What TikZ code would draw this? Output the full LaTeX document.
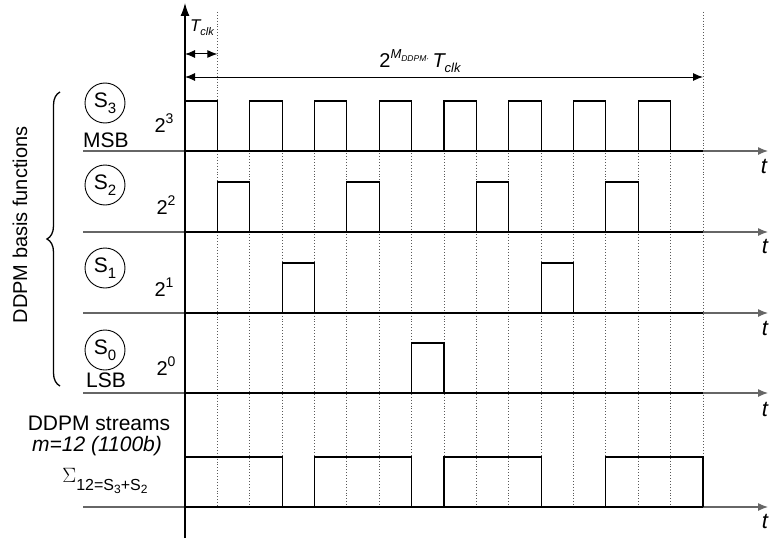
\documentclass[tikz,border=0pt]{standalone}
\usepackage{fontspec}
\setmainfont{Liberation Sans}
\usetikzlibrary{arrows.meta,decorations.pathreplacing}
\begin{document}
\begin{tikzpicture}[x=1pt,y=-1pt]
\useasboundingbox (0,0) rectangle (770,543);
\tikzset{
 axisline/.style={draw=black!60, line width=1.2pt, -{Latex[length=10pt,width=8pt]}},
 wave/.style={draw=black, line width=1.1pt},
 gridline/.style={draw=black!65, dotted, line width=0.9pt},
 bit/.style={circle, draw, line width=0.9pt, minimum size=40pt, inner sep=0pt, font=\fontsize{21}{21}\selectfont},
 lbl/.style={font=\fontsize{20}{20}\selectfont, inner sep=0pt},
 tlabel/.style={font=\fontsize{22}{22}\selectfont\itshape, inner sep=0pt},
 dim/.style={draw=black, line width=1pt, {Latex[length=10pt,width=8pt]}-{Latex[length=10pt,width=8pt]}},
}
\def\T{32.375}
% dotted grid
\foreach \k in {2,...,15}{
  \coordinate (gt\k) at ({185+\T*\k},101);
  \coordinate (gb\k) at ({185+\T*\k},507);
  \draw[gridline] (gt\k) -- (gb\k);
}
\foreach \k in {1,16}{
  \coordinate (gt\k) at ({185+\T*\k},12);
  \coordinate (gb\k) at ({185+\T*\k},507);
  \draw[gridline] (gt\k) -- (gb\k);
}
% horizontal axes
\foreach \n/\b in {a/151,b/232,c/313,d/393,e/507}{
  \coordinate (hl\n) at (83,\b);
  \coordinate (hr\n) at (768,\b);
  \draw[axisline] (hl\n) -- (hr\n);
}
% vertical axis
\coordinate (vb) at (185,538);
\coordinate (vt) at (185,3);
\draw[draw=black, line width=1.1pt, -{Latex[length=13pt,width=9pt]}] (vb) -- (vt);
% waveforms
\foreach \b/\list in {151/{0/1,2/3,4/5,6/7,8/9,10/11,12/13,14/15},232/{1/2,5/6,9/10,13/14},313/{3/4,11/12},393/{7/8},507/{0/3,4/7,8/11,13/16}}{
  \coordinate (ws) at (185,\b);
  \coordinate (we) at (703,\b);
  \draw[wave] (ws) -- (we);
  \foreach \p/\q in \list{
    \draw[wave] ({185+\T*\p},\b) -- ({185+\T*\p},\b-50) -- ({185+\T*\q},\b-50) -- ({185+\T*\q},\b);
  }
}
% t labels
\node[tlabel] (t1) at (764,166) {t};
\node[tlabel] (t2) at (765,246) {t};
\node[tlabel] (t3) at (765,328) {t};
\node[tlabel] (t4) at (765,409) {t};
\node[tlabel] (t5) at (765,521) {t};
% time dimensions
\coordinate (ta) at (185,54);
\coordinate (tb) at ({185+\T},54);
\draw[dim] (ta) -- (tb);
\coordinate (la) at (185,77);
\coordinate (lb) at ({185+16*\T},77);
\draw[dim] (la) -- (lb);
\node[inner sep=0pt, font=\fontsize{17}{17}\selectfont\itshape] (tclk) at (202,28) {T\raisebox{-0.4ex}{\fontsize{11}{11}\selectfont clk}};
\node[inner sep=0pt, font=\fontsize{20}{20}\selectfont] (period) at (420,61) {2\raisebox{0.85ex}{\fontsize{13}{13}\selectfont\itshape M\raisebox{-0.45ex}{\fontsize{8.5}{8.5}\selectfont DDPM·}}\,{\itshape T\raisebox{-0.4ex}{\fontsize{13}{13}\selectfont clk}}};
% bit circles
\node[bit] (s3) at (105,103) {S\raisebox{-0.5ex}{\fontsize{15}{15}\selectfont 3}};
\node[bit] (s2) at (105,185) {S\raisebox{-0.5ex}{\fontsize{15}{15}\selectfont 2}};
\node[bit] (s1) at (105,268) {S\raisebox{-0.5ex}{\fontsize{15}{15}\selectfont 1}};
\node[bit] (s0) at (105,350) {S\raisebox{-0.5ex}{\fontsize{15}{15}\selectfont 0}};
\node[lbl, font=\fontsize{21}{21}\selectfont] (msb) at (106,140) {MSB};
\node[lbl, font=\fontsize{21}{21}\selectfont] (lsb) at (106,380) {LSB};
\node[lbl] (w3) at (164,123) {2\raisebox{0.8ex}{\fontsize{14}{14}\selectfont 3}};
\node[lbl] (w2) at (166,205) {2\raisebox{0.8ex}{\fontsize{14}{14}\selectfont 2}};
\node[lbl] (w1) at (164,287) {2\raisebox{0.8ex}{\fontsize{14}{14}\selectfont 1}};
\node[lbl] (w0) at (166,366) {2\raisebox{0.8ex}{\fontsize{14}{14}\selectfont 0}};
% brace
\coordinate (bb) at (60,386);
\coordinate (bt) at (60,92);
\draw[decorate, decoration={brace, amplitude=13pt}, line width=1.3pt] (bb) -- (bt);
\node[lbl, rotate=90, font=\fontsize{20}{20}\selectfont] (basis) at (20,225) {DDPM basis functions};
% stream labels
\node[lbl, font=\fontsize{21}{21}\selectfont] (streams) at (99,423) {DDPM streams};
\node[lbl, font=\fontsize{21}{21}\selectfont\itshape] (m12) at (97,446) {m=12 (1100b)};
\node[lbl] (sigma) at (105,481) {\fontsize{21}{21}\selectfont$\Sigma$\raisebox{-0.7ex}{\fontsize{16}{16}\selectfont 12=S\raisebox{-0.4ex}{\fontsize{12}{12}\selectfont 3}+S\raisebox{-0.4ex}{\fontsize{12}{12}\selectfont 2}}};
\end{tikzpicture}
\end{document}
